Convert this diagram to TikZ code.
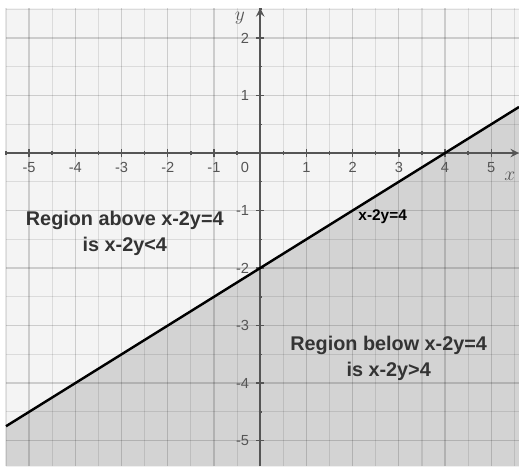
\documentclass[tikz,border=0pt]{standalone}
\usepackage{fontspec}
\setsansfont{Liberation Sans}
\usetikzlibrary{arrows,positioning}
\definecolor{sfondo}{HTML}{F4F4F4}
\definecolor{ombra}{HTML}{D3D3D3}
\definecolor{asse}{HTML}{555555}
\definecolor{testo}{HTML}{333333}

\begin{document}
\begin{tikzpicture}[x=1cm, y=1.2446cm, font=\sffamily]
    % Stili
    \tikzstyle{minorline}=[black, opacity=0.10, line width=0.7pt]
    \tikzstyle{majorline}=[black, opacity=0.16, line width=0.8pt]
    \tikzstyle{axis}=[->, >=stealth, asse, line width=1.3pt]
    \tikzstyle{ticklabel}=[text=asse, font=\sffamily\fontsize{9}{10}\selectfont, inner sep=1pt]
    \tikzstyle{region}=[text=testo, align=center, font=\sffamily\bfseries\fontsize{12.2}{16}\selectfont]

    \useasboundingbox (-5.63,-5.45) rectangle (5.6,2.66);

    % Sfondo e semipiano
    \fill[sfondo] (-5.5,-5.45) rectangle (5.6,2.52);
    \fill[ombra] (-5.5,-4.75) -- (5.6,0.8) -- (5.6,-5.45) -- (-5.5,-5.45) -- cycle;

    % Griglia
    \foreach \x in {-5.5,-4.5,...,5.5}
        \draw[minorline] (\x,-5.45) -- (\x,2.52);
    \foreach \x in {-5,...,5}
        \draw[majorline] (\x,-5.45) -- (\x,2.52);
    \foreach \y in {-4.5,-3.5,...,2.5}
        \draw[minorline] (-5.5,\y) -- (5.6,\y);
    \foreach \y in {-5,...,2}
        \draw[majorline] (-5.5,\y) -- (5.6,\y);

    % Assi
    \coordinate (xstart) at (-5.5,0);
    \coordinate (xend) at (5.6,0);
    \coordinate (ystart) at (0,-5.45);
    \coordinate (yend) at (0,2.52);
    \draw[axis] (xstart) -- (xend);
    \draw[axis] (ystart) -- (yend);
    \node (xlab) at (5.4,-0.40) {\color{asse}\large$x$};
    \node (ylab) at (-0.44,2.34) {\color{asse}\large$y$};

    % Tacche
    \foreach \x in {-5,...,-1,1,2,3,4,5}
        \draw[asse, line width=0.9pt] (\x,-2.5pt) -- (\x,2.5pt);
    \foreach \x in {-5.5,-4.5,...,5.5}
        \draw[asse, line width=0.9pt] (\x,-1pt) -- (\x,1pt);
    \foreach \y in {-5,...,-1,1,2}
        \draw[asse, line width=0.9pt] (-2.5pt,\y) -- (2.5pt,\y);
    \foreach \y in {-4.5,-3.5,...,2.5}
        \draw[asse, line width=0.9pt] (-1pt,\y) -- (1pt,\y);

    % Etichette
    \foreach \x in {-5,...,-1,1,2,3,4,5}
        \node[ticklabel] (tx\x) at (\x,-0.245) {\x};
    \node[ticklabel] (tx0) at (-0.33,-0.245) {0};
    \foreach \y in {-5,...,-1,1,2}
        \node[ticklabel, anchor=east] (ty\y) at (-0.2,\y) {\y};

    % Retta
    \coordinate (lstart) at (-5.5,-4.75);
    \coordinate (lend) at (5.6,0.8);
    \draw[black, line width=1.5pt] (lstart) -- (lend);
    \node (retta) at (2.65,-1.10) {\bfseries\fontsize{9.5}{10}\selectfont x-2y=4};

    % Annotazioni
    \node (sopra) [region] at (-2.93,-1.40) {Region above x-2y=4\\is x-2y<4};
    \node (sotto) [region] at (2.78,-3.57) {Region below x-2y=4\\is x-2y>4};
\end{tikzpicture}
\end{document}
